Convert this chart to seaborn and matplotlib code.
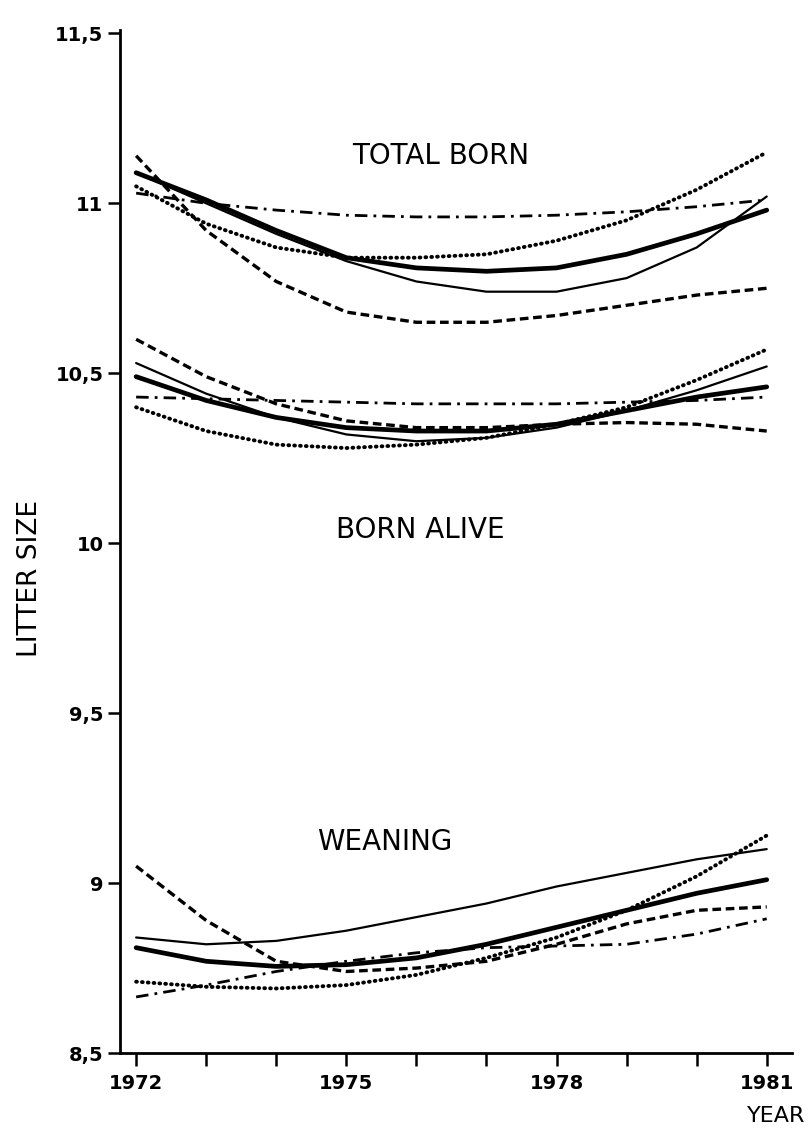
import numpy as np
import pandas as pd
import matplotlib
matplotlib.use("Agg")
import matplotlib.pyplot as plt
import seaborn as sns

years = [1972, 1973, 1974, 1975, 1976, 1977, 1978, 1979, 1980, 1981]

# TOTAL BORN
tb_thick = [11.09, 11.01, 10.92, 10.84, 10.81, 10.80, 10.81, 10.85, 10.91, 10.98]
tb_thin = [11.09, 11.00, 10.91, 10.83, 10.77, 10.74, 10.74, 10.78, 10.87, 11.02]
tb_dashed = [11.14, 10.92, 10.77, 10.68, 10.65, 10.65, 10.67, 10.70, 10.73, 10.75]
tb_dotted = [11.05, 10.94, 10.87, 10.84, 10.84, 10.85, 10.89, 10.95, 11.04, 11.15]
tb_dashdot = [11.03, 11.00, 10.98, 10.965, 10.96, 10.96, 10.965, 10.975, 10.99, 11.01]

# BORN ALIVE
ba_thick = [10.49, 10.42, 10.37, 10.34, 10.33, 10.33, 10.35, 10.39, 10.43, 10.46]
ba_thin = [10.53, 10.44, 10.37, 10.32, 10.30, 10.31, 10.34, 10.39, 10.45, 10.52]
ba_dashed = [10.60, 10.49, 10.41, 10.36, 10.34, 10.34, 10.35, 10.355, 10.35, 10.33]
ba_dotted = [10.40, 10.33, 10.29, 10.28, 10.29, 10.31, 10.35, 10.40, 10.48, 10.57]
ba_dashdot = [10.43, 10.425, 10.42, 10.415, 10.41, 10.41, 10.41, 10.415, 10.42, 10.43]

# WEANING
w_thick = [8.81, 8.77, 8.755, 8.76, 8.78, 8.82, 8.87, 8.92, 8.97, 9.01]
w_thin = [8.84, 8.82, 8.83, 8.86, 8.90, 8.94, 8.99, 9.03, 9.07, 9.10]
w_dashed = [9.05, 8.89, 8.77, 8.74, 8.75, 8.77, 8.82, 8.88, 8.92, 8.93]
w_dotted = [8.71, 8.695, 8.69, 8.70, 8.73, 8.78, 8.84, 8.92, 9.02, 9.14]
w_dashdot = [8.665, 8.70, 8.74, 8.77, 8.795, 8.81, 8.815, 8.82, 8.85, 8.895]

group_labels = ["TOTAL BORN", "BORN ALIVE", "WEANING"]
ytick_values = [8.5, 9.0, 9.5, 10.0, 10.5, 11.0, 11.5]
ytick_labels = ["8,5", "9", "9,5", "10", "10,5", "11", "11,5"]
xtick_major = [1972, 1975, 1978, 1981]

sns.set_theme(style="ticks")
plt.rcParams["font.family"] = ["DejaVu Sans"]
plt.rcParams["text.color"] = "black"
plt.rcParams["xtick.color"] = "black"
plt.rcParams["ytick.color"] = "black"

fig = plt.figure(figsize=(8.12, 11.35), dpi=100)
ax = fig.add_axes([0.1478, 0.0722, 0.8275, 0.9014])

styles = {
    "thick": dict(color="black", lw=3.4, linestyle="-"),
    "thin": dict(color="black", lw=1.6, linestyle="-"),
    "dashed": dict(color="black", lw=2.4, linestyle=(0, (2.6, 1.4))),
    "dotted": dict(color="black", lw=2.8, linestyle=(0, (0.2, 1.3)), dash_capstyle="round"),
    "dashdot": dict(color="black", lw=2.0, linestyle=(0, (4.5, 2.2, 1.0, 2.2))),
}

series = [
    ("dashdot", tb_dashdot), ("dashed", tb_dashed), ("dotted", tb_dotted), ("thin", tb_thin), ("thick", tb_thick),
    ("dashdot", ba_dashdot), ("dashed", ba_dashed), ("dotted", ba_dotted), ("thin", ba_thin), ("thick", ba_thick),
    ("dashdot", w_dashdot), ("dashed", w_dashed), ("dotted", w_dotted), ("thin", w_thin), ("thick", w_thick),
]

for kind, vals in series:
    st = dict(styles[kind])
    df = pd.DataFrame({"year": years, "value": vals})
    sns.lineplot(data=df, x="year", y="value", ax=ax, color=st.pop("color"),
                 linewidth=st.pop("lw"), linestyle=st.pop("linestyle"), **st)

ax.set_xlim(1971.77, 1981.36)
ax.set_ylim(8.5, 11.51)
sns.despine(ax=ax)
for s in ["left", "bottom"]:
    ax.spines[s].set_linewidth(2.0)
    ax.spines[s].set_color("black")

ax.set_yticks(ytick_values)
ax.set_yticklabels(ytick_labels, fontsize=14, fontweight="bold", color="black")
ax.set_xticks(xtick_major)
ax.set_xticklabels([str(y) for y in xtick_major], fontsize=14, fontweight="bold", color="black")
ax.set_xticks(years, minor=True)
ax.tick_params(axis="both", which="major", length=9, width=1.8, color="black", direction="out", pad=6)
ax.tick_params(axis="x", which="minor", length=9, width=1.8, color="black", direction="out")
ax.tick_params(axis="y", which="major", pad=3)

ax.set_xlabel("")
ax.set_ylabel("")
fig.text(0.037, 0.49, "LITTER SIZE", rotation=90, ha="center", va="center",
         fontsize=19, color="black", family=["DejaVu Sans"])
fig.text(0.992, 0.017, "YEAR", ha="right", va="center",
         fontsize=16, color="black", family=["DejaVu Sans"])

ann_font = dict(fontsize=20, color="black", family=["DejaVu Sans"], ha="center", va="center")
ax.text(1976.34, 11.14, group_labels[0], **ann_font)
ax.text(1976.05, 10.04, group_labels[1], **ann_font)
ax.text(1975.55, 9.12, group_labels[2], **ann_font)

ax.grid(False)
fig.savefig("out.png", dpi=100, facecolor="white")
